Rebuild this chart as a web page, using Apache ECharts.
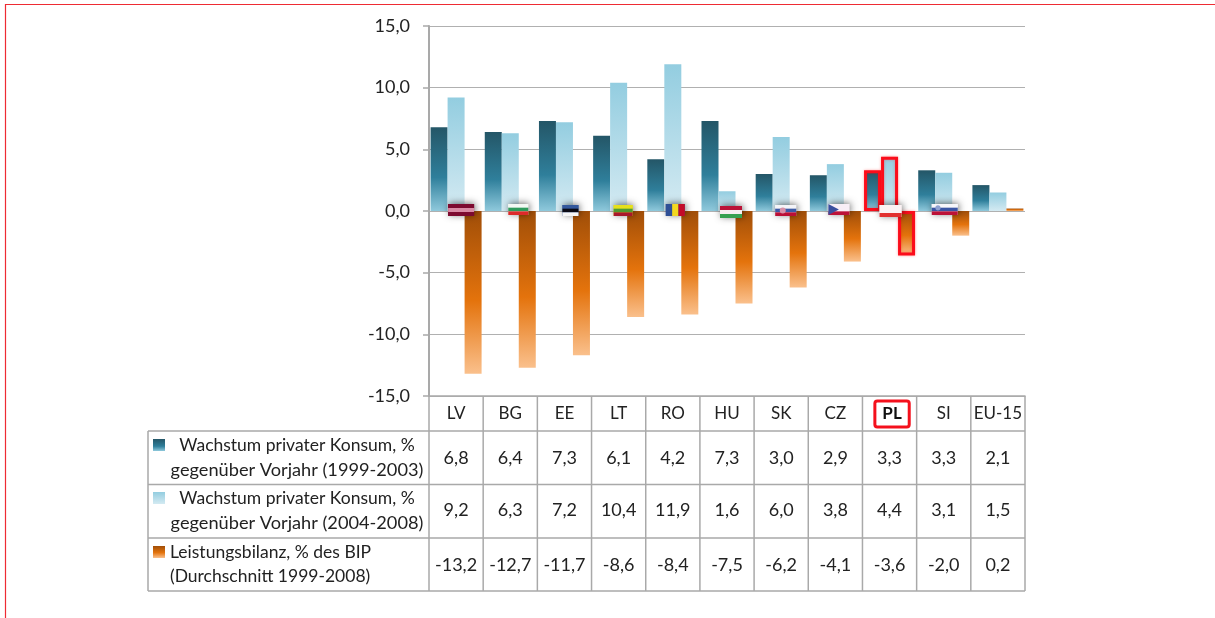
<!DOCTYPE html>
<html><head><meta charset="utf-8">
<style>html,body{margin:0;padding:0;background:#fff}#c{width:1215px;height:618px}</style>
<script src="https://cdn.jsdelivr.net/npm/echarts@6/dist/echarts.min.js"></script>
</head><body><div id="c"></div>
<script>
const categories = ['LV','BG','EE','LT','RO','HU','SK','CZ','PL','SI','EU-15'];
const konsum9903 = [6.8,6.4,7.3,6.1,4.2,7.3,3.0,2.9,3.3,3.3,2.1];
const konsum0408 = [9.2,6.3,7.2,10.4,11.9,1.6,6.0,3.8,4.4,3.1,1.5];
const bilanz = [-13.2,-12.7,-11.7,-8.6,-8.4,-7.5,-6.2,-4.1,-3.6,-2.0,0.2];
const rowLabels = [
  ['Wachstum privater Konsum, %','gegenüber Vorjahr (1999-2003)'],
  ['Wachstum privater Konsum, %','gegenüber Vorjahr (2004-2008)'],
  ['Leistungsbilanz, % des BIP','(Durchschnitt 1999-2008)']
];
const highlighted = 'PL';

// flag styling: colours per country
const flagColors = {
  LV:['#7d0a30','#d98aa4','#7d0a30'], BG:['#f4f8f4','#2f9a5c','#dd2a2a'], EE:['#34589c','#0a0a14','#f6f6f6'],
  LT:['#e6e01c','#4f9a34','#a8182c'], RO:['#2f4f96','#f2d820','#c40a28'], HU:['#bb1236','#f6eef0','#36a050'],
  SK:['#f4f4f8','#3c5aa6','#bc0f36'], CZ:['#f8eef6','#f8eef6','#bc1238'], PL:['#fbf2f4','#fbf2f4','#e23030'], SI:['#f6f6fa','#3a55a4','#bc1238']
};
// flag box relative to the point (category, 0): dx, dy, w, h
const flagBoxes = {
  LV:[-8,-7,26,12], BG:[-2,-7,20,11], EE:[-2,-6,16,11], LT:[-5,-6,19,11], RO:[-7,-7,19,12],
  HU:[-7,-5,22,12], SK:[-6,-6,21,11], CZ:[-7,-7,21,11], PL:[-10,-6,22,12], SI:[-12,-7,26,11]
};

const fmt = v => v.toFixed(1).replace('.', ',');
const L = 429, T = 26, W = 596, H = 370, CW = W / categories.length;
const FONT = 'Lato';
const TXT = '#222222', LINE = '#a9a9a9';

const grad = stops => ({type:'linear',x:0,y:0,x2:0,y2:1,colorStops:stops.map(s=>({offset:s[0],color:s[1]}))});
const gDark = grad([[0,'#245667'],[0.6,'#2f7f9b'],[1,'#8fc9dc']]);
const gLight = grad([[0,'#93cde0'],[1,'#d4eaf2']]);
const gOrange = grad([[0,'#a04e08'],[0.55,'#e4730c'],[1,'#fac08c']]);

const barData = (arr, color) => arr.map((v,i) => categories[i] === highlighted
  ? {value:v, itemStyle:{color, borderColor:'#fb0d1b', borderWidth:3, shadowBlur:3, shadowColor:'rgba(255,0,0,.35)'}}
  : {value:v, itemStyle:{color}});

const bar = (name, arr, color) => ({name, type:'bar', data:barData(arr,color), barWidth:17, barGap:'0%', animation:false, z:2});

const graphic = [];
const line = (x1,y1,x2,y2,stroke=LINE,lineWidth=1.5) => graphic.push({type:'line',silent:true,z:1,shape:{x1,y1,x2,y2},style:{stroke,lineWidth}});
const text = (x,y,t,align='center',size=18) => graphic.push({type:'text',silent:true,z:5,x,y,style:{text:t,align,verticalAlign:'middle',fill:TXT,font:`${size}px ${FONT}`}});

// page frame
line(5,4.5,1215,4.5,'#ee2b33',1.2);
line(5.5,4,5.5,618,'#ee2b33',1.2);

// table
const rowsY = [431,484.5,538,591];
rowsY.forEach(y => line(148,y,1025,y));
line(148,431,148,591);
for (let i=0;i<=categories.length;i++) line(L+i*CW,396,L+i*CW,591);

const tableVals = [konsum9903,konsum0408,bilanz];
tableVals.forEach((arr,r) => arr.forEach((v,i) => text(L+(i+.5)*CW, [458,510,565][r], fmt(v))));

const keys = [gDark,gLight,gOrange];
[439,492,546].forEach((y,r)=>graphic.push({type:'rect',silent:true,z:5,shape:{x:153,y,width:12,height:12},style:{fill:keys[r]}}));
[[445,470],[498,523],[552,576]].forEach((ys,r)=>{
  if (r<2){ text(297,ys[0],rowLabels[r][0],'center',17.5); text(297,ys[1],rowLabels[r][1],'center',18.2); }
  else { text(170,ys[0],rowLabels[r][0],'left',17.5); text(170,ys[1],rowLabels[r][1],'left',17.5); }
});

function renderFlag(params, api){
  const code = categories[api.value(0)];
  const box = flagBoxes[code];
  if (!box) return null;
  const p = api.coord([api.value(0), 0]);
  const [dx,dy,w,h] = box, cols = flagColors[code];
  const x = p[0]+dx, y = p[1]+dy;
  const ch = [{type:'rect',shape:{x,y,width:w,height:h},style:{fill:cols[0],shadowBlur:7,shadowColor:'rgba(0,0,0,.55)',shadowOffsetX:1,shadowOffsetY:-1}}];
  cols.forEach((c,i)=>{
    const s = code==='RO' ? {x:x+i*w/3,y,width:w/3,height:h} : {x,y:y+i*h/3,width:w,height:h/3};
    ch.push({type:'rect',shape:s,style:{fill:c}});
  });
  if (code==='CZ') ch.push({type:'polygon',shape:{points:[[x,y],[x+w*.5,y+h/2],[x,y+h]]},style:{fill:'#3a4f9e'}});
  if (code==='SK') ch.push({type:'circle',shape:{cx:x+w*.36,cy:y+h*.5,r:3},style:{fill:'#d890a8'}});
  if (code==='SI') ch.push({type:'circle',shape:{cx:x+w*.24,cy:y+h*.35,r:2.6},style:{fill:'#8fa0d0'}});
  return {type:'group',children:ch};
}

const chart = echarts.init(document.getElementById('c'),null,{renderer:'canvas'});
chart.setOption({
  animation:false,
  backgroundColor:'#ffffff',
  grid:{left:L,top:T,width:W,height:H,containLabel:false},
  xAxis:{
    type:'category', data:categories, position:'bottom',
    axisLine:{onZero:false,lineStyle:{color:LINE,width:1.5}}, axisTick:{show:false}, splitLine:{show:false},
    axisLabel:{
      interval:0, margin:18, verticalAlign:'middle', color:TXT, fontFamily:FONT, fontSize:17,
      formatter:v => v===highlighted ? `{s|}{hl|${v}}` : v,
      rich:{s:{width:5},hl:{fontFamily:FONT,fontSize:17,fontWeight:'bold',color:'#111',borderColor:'#f4101c',borderWidth:3,borderRadius:1,padding:[3,6,3,6],backgroundColor:'#fff'}}
    }
  },
  yAxis:{
    type:'value', min:-15, max:15, interval:5,
    axisLine:{show:true,lineStyle:{color:LINE,width:2}},
    axisTick:{show:true,length:6,lineStyle:{color:LINE,width:1.5}},
    splitLine:{show:true,lineStyle:{color:'#b0b0b0',width:1.2}},
    axisLabel:{margin:19,color:TXT,fontFamily:FONT,fontSize:18,formatter:fmt}
  },
  tooltip:{show:false},
  series:[
    bar('Wachstum privater Konsum, % gegenüber Vorjahr (1999-2003)',konsum9903,gDark),
    bar('Wachstum privater Konsum, % gegenüber Vorjahr (2004-2008)',konsum0408,gLight),
    bar('Leistungsbilanz, % des BIP (Durchschnitt 1999-2008)',bilanz,gOrange),
    {type:'custom',name:'Flaggen',renderItem:renderFlag,data:categories.map((c,i)=>[i,0]),encode:{x:0,y:1},z:6,clip:false,silent:true,animation:false}
  ],
  graphic:{elements:graphic}
});
</script></body></html>
